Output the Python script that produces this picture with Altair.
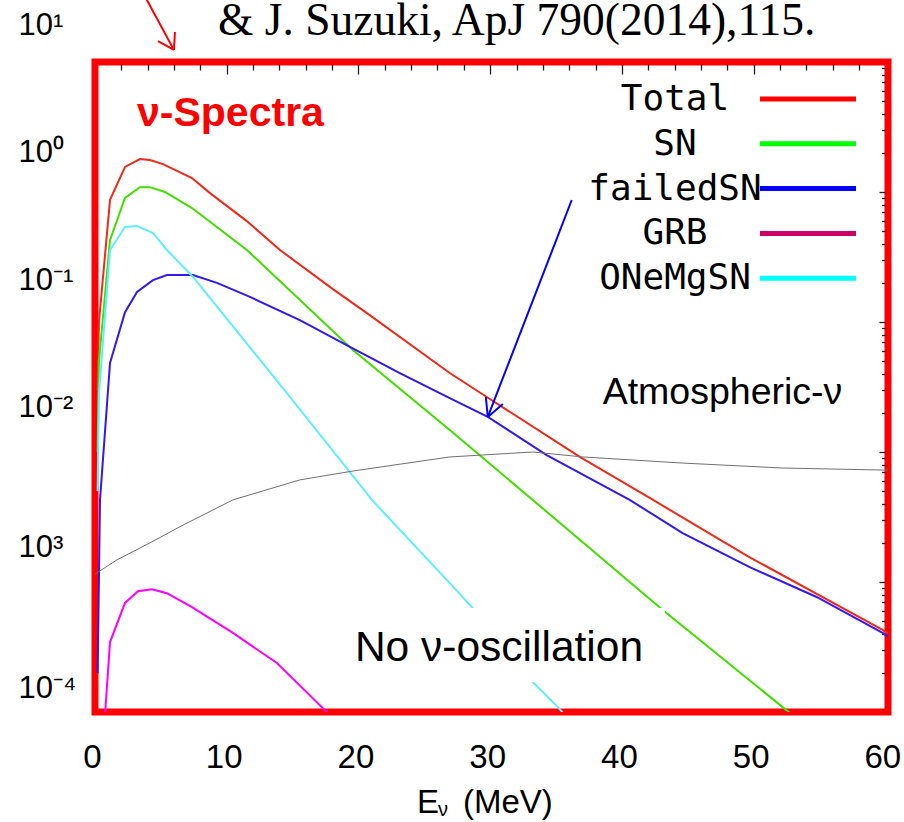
import json
import altair as alt
import pandas as pd

# ---------------- values ----------------
series_names = ["Total", "SN", "failedSN", "GRB", "ONeMgSN"]

total_E = [0.2, 0.3, 1.14, 2.28, 3.41, 4.17, 5.16, 7.36, 8.73, 11.5, 14.04, 18.06, 20.64,
           26.93, 29.74, 36.8, 42.11, 49.7, 59.79, 60.2]
total_F = [0.03, 0.1, 0.87, 1.56, 1.79, 1.76, 1.64, 1.28, 0.98, 0.6, 0.358, 0.179, 0.117,
           0.0405, 0.0265, 0.00916, 0.00443, 0.00155, 0.000428, 0.0004]

sn_E = [0.2, 0.3, 1.14, 2.28, 3.41, 4.17, 5.31, 7.36, 11.53, 19.58, 26.93, 33.23,
        43.1, 52.2, 54.0]
sn_F = [0.01, 0.05, 0.428, 0.90, 1.09, 1.09, 1.0, 0.753, 0.358, 0.061, 0.01476,
        0.00428, 0.00061, 0.000109, 7.8e-5]

failed_E = [0.2, 0.38, 1.14, 2.28, 3.19, 4.4, 5.46, 7.44, 9.26, 11.76, 15.55, 19.35,
            23.14, 26.93, 29.82, 34.29, 40.59, 44.61, 49.7, 54.78, 59.79, 60.2]
failed_F = [0.0002, 0.00428, 0.0484, 0.119, 0.170, 0.210, 0.230, 0.230, 0.200, 0.156,
            0.1035, 0.0643, 0.0405, 0.026, 0.0186, 0.00948, 0.00428, 0.00238, 0.0013,
            0.000767, 0.000406, 0.00038]

grb_E = [0.5, 0.76, 1.14, 2.28, 3.26, 4.32, 5.46, 7.36, 10.47, 13.81, 17.22, 19.0]
grb_F = [1e-5, 9.5e-5, 3.45e-4, 6.9e-4, 8.5e-4, 8.8e-4, 8.2e-4, 6.4e-4, 4.06e-4,
         2.38e-4, 1.09e-4, 7.2e-5]

onemg_E = [0.2, 0.3, 1.14, 2.28, 3.19, 4.4, 5.46, 7.44, 14.57, 21.02, 26.93, 28.68,
           33.23, 35.13, 37.0]
onemg_F = [0.005, 0.028, 0.358, 0.538, 0.547, 0.484, 0.358, 0.222, 0.0284, 0.00428,
           0.00098, 0.00063, 0.00017, 0.000109, 6.8e-5]

atm_E = [0.0, 1.67, 4.17, 6.68, 10.47, 15.55, 19.58, 26.93, 33.23, 37.03, 44.61,
         52.2, 60.2]
atm_F = [0.00115, 0.00148, 0.0020, 0.00274, 0.00428, 0.0061, 0.00714, 0.00916,
         0.0100, 0.00916, 0.00822, 0.00753, 0.00725]

x_ticks = [0, 10, 20, 30, 40, 50, 60]
y_ticks = [1e-4, 1e-3, 1e-2, 1e-1, 1, 10]
y_tick_labels = ["10⁻⁴", "10³", "10⁻²", "10⁻¹", "10⁰", "10¹"]

# annotation geometry (data coordinates: MeV, flux)
blue_arrow = [(36.19, 0.868, 29.82, 0.0186), (29.67, 0.0265, 29.82, 0.0186),
              (30.96, 0.0234, 29.82, 0.0186)]
red_arrow = [(3.74, 32.7, 5.99, 12.4), (4.78, 14.5, 5.99, 12.4), (6.07, 17.0, 5.99, 12.4)]
mask_box = (19.35, 43.25, 1.7e-4, 6.3e-4)

# ---------------- styles ----------------
curve_colors = ["#ee2a1a", "#44dd00", "#3318f0", "#ff00ff", "#5eeeff"]
legend_colors = ["#ff0000", "#00ff00", "#0000ff", "#cc0066", "#00ffff"]
W, H = 793, 650
SANS = "Liberation Sans"

xscale = alt.Scale(domain=[0, 60.2], nice=False, zero=False)
yscale = alt.Scale(type="log", domain=[1e-4, 10], nice=False)

rows = []
for name, E, F in [("Total", total_E, total_F), ("SN", sn_E, sn_F),
                   ("failedSN", failed_E, failed_F), ("GRB", grb_E, grb_F),
                   ("ONeMgSN", onemg_E, onemg_F)]:
    for e, f in zip(E, F):
        rows.append({"series": name, "E": e, "flux": f})
curves_df = pd.DataFrame(rows)
atm_df = pd.DataFrame({"E": atm_E, "flux": atm_F})

label_expr = json.dumps(y_tick_labels) + "[round(log(datum.value)/LN10)+4]"
# the tick labels of the picture sit somewhat above their ticks
label_shift = {"condition": [
    {"test": "datum.value < 0.0005", "value": -24},
    {"test": "datum.value < 0.005", "value": -35},
    {"test": "datum.value < 0.05", "value": -45},
    {"test": "datum.value < 0.5", "value": -42},
    {"test": "datum.value < 5", "value": -40}], "value": -37}

curves = alt.Chart(curves_df).mark_line(clip=True, strokeWidth=2).encode(
    x=alt.X("E:Q", scale=xscale, axis=alt.Axis(
        values=x_ticks, title=None, grid=False, domain=False, ticks=False, tickSize=0,
        labelFont=SANS, labelFontSize=33, labelColor="black", labelPadding=45,
        labelBaseline="middle", labelOffset=-3, labelFlush=False, labelOverlap=False)),
    y=alt.Y("flux:Q", scale=yscale, axis=alt.Axis(
        values=y_ticks, title=None, grid=False, domain=False, ticks=False, tickSize=0,
        labelExpr=label_expr, labelFont=SANS, labelFontSize=31, labelColor="black",
        labelAlign="left", labelBaseline="middle", labelPadding=77,
        labelOffset=label_shift, labelOverlap=False)),
    color=alt.Color("series:N", scale=alt.Scale(domain=series_names, range=curve_colors),
                    legend=None),
    detail="series:N",
)

atm = alt.Chart(atm_df).mark_line(clip=True, strokeWidth=1, color="#707070").encode(
    x=alt.X("E:Q", scale=xscale, axis=None),
    y=alt.Y("flux:Q", scale=yscale, axis=None),
)

mask = alt.Chart(pd.DataFrame([{"x": mask_box[0], "x2": mask_box[1],
                                "y": mask_box[2], "y2": mask_box[3]}])).mark_rect(
    color="white").encode(
    x=alt.X("x:Q", scale=xscale, axis=None), x2="x2:Q",
    y=alt.Y("y:Q", scale=yscale, axis=None), y2="y2:Q")


def segs(seglist, color):
    df = pd.DataFrame([{"x": a, "y": b, "x2": c, "y2": d} for a, b, c, d in seglist])
    return alt.Chart(df).mark_rule(color=color, strokeWidth=2, clip=False).encode(
        x=alt.X("x:Q", scale=xscale, axis=None), x2="x2:Q",
        y=alt.Y("y:Q", scale=yscale, axis=None), y2="y2:Q")


def data_text(txt, e, f, size, color="black", weight="normal"):
    return alt.Chart(pd.DataFrame([{"E": e, "flux": f, "t": txt}])).mark_text(
        font=SANS, fontSize=size, color=color, fontWeight=weight, align="left",
        baseline="alphabetic").encode(
        x=alt.X("E:Q", scale=xscale, axis=None),
        y=alt.Y("flux:Q", scale=yscale, axis=None), text="t:N")


def px_text(txt, px, py, size, font=SANS, color="black"):
    return alt.Chart(pd.DataFrame([{"t": txt}])).mark_text(
        font=font, fontSize=size, color=color, align="left", baseline="alphabetic").encode(
        x=alt.value(px), y=alt.value(py), text="t:N")


layers = [curves, atm, mask,
          data_text("Atmospheric-ν", 38.54, 0.0234, 37.5),
          data_text("No ν-oscillation", 19.73, 2.47e-4, 42.5),
          data_text("ν-Spectra", 3.19, 3.22, 41, color="#ff0000", weight="bold"),
          segs(blue_arrow, "#0000ff"), segs(red_arrow, "#ff0000"),
          px_text("& J. Suzuki, ApJ 790(2014),115.", 123, -27, 45.5, font="Liberation Serif"),
          px_text("E", 322, 751, 33),
          px_text("ν", 343, 754, 20),
          px_text("(MeV)", 368, 751, 33)]

# legend (drawn as in the picture: label, then a line sample to its right)
for i, (name, col) in enumerate(zip(series_names, legend_colors)):
    yy = 37 + i * 44.8
    layers.append(alt.Chart(pd.DataFrame([{"t": name}])).mark_text(
        font="DejaVu Sans Mono", fontSize=36, color="black", align="center",
        baseline="middle").encode(x=alt.value(580), y=alt.value(yy), text="t:N"))
    layers.append(alt.Chart(pd.DataFrame([{"t": name}])).mark_rule(
        color=col, strokeWidth=5).encode(x=alt.value(665), x2=alt.value(761),
                                          y=alt.value(yy)))

# inward tick marks on the top and right side of the frame
x_minor = [v for v in range(2, 60, 2) if v % 10]
x_major = [10, 20, 30, 40, 50]
y_major = [1, 0.1, 0.01, 0.001]
y_minor = [k * 10.0 ** d for d in range(-4, 1) for k in range(2, 10)]


def xtick_layer(vals, size):
    # a bottom-oriented axis lifted up to the top edge, so its ticks point inward
    return alt.Chart(pd.DataFrame({"v": vals})).mark_point(opacity=0).encode(
        x=alt.X("v:Q", scale=xscale, axis=alt.Axis(
            orient="bottom", values=vals, labels=False, domain=False, grid=False,
            tickSize=size, tickColor="#222222", tickWidth=1.3, offset=-(H - 2),
            title=None)))


def ytick_layer(vals, offset, size):
    return alt.Chart(pd.DataFrame({"v": vals})).mark_point(opacity=0).encode(
        y=alt.Y("v:Q", scale=yscale, axis=alt.Axis(
            orient="right", values=vals, labels=False, domain=False, grid=False,
            tickSize=size, tickColor="#222222", tickWidth=1.3, offset=offset,
            title=None)))


layers += [xtick_layer(x_major, 10), xtick_layer(x_minor, 6),
           ytick_layer(y_major, -9, 6), ytick_layer(y_minor, -6.5, 3.5)]

chart = alt.layer(*layers).resolve_axis(x="independent", y="independent").properties(
    width=W, height=H,
    padding={"left": 95, "top": 62, "right": 904 - 95 - W, "bottom": 822 - 62 - H},
    autosize=alt.AutoSizeParams(type="none"),
    background="white",
).configure_view(stroke="#ff0000", strokeWidth=7)

chart.save("out.html", embed_options={"renderer": "svg", "actions": False})
